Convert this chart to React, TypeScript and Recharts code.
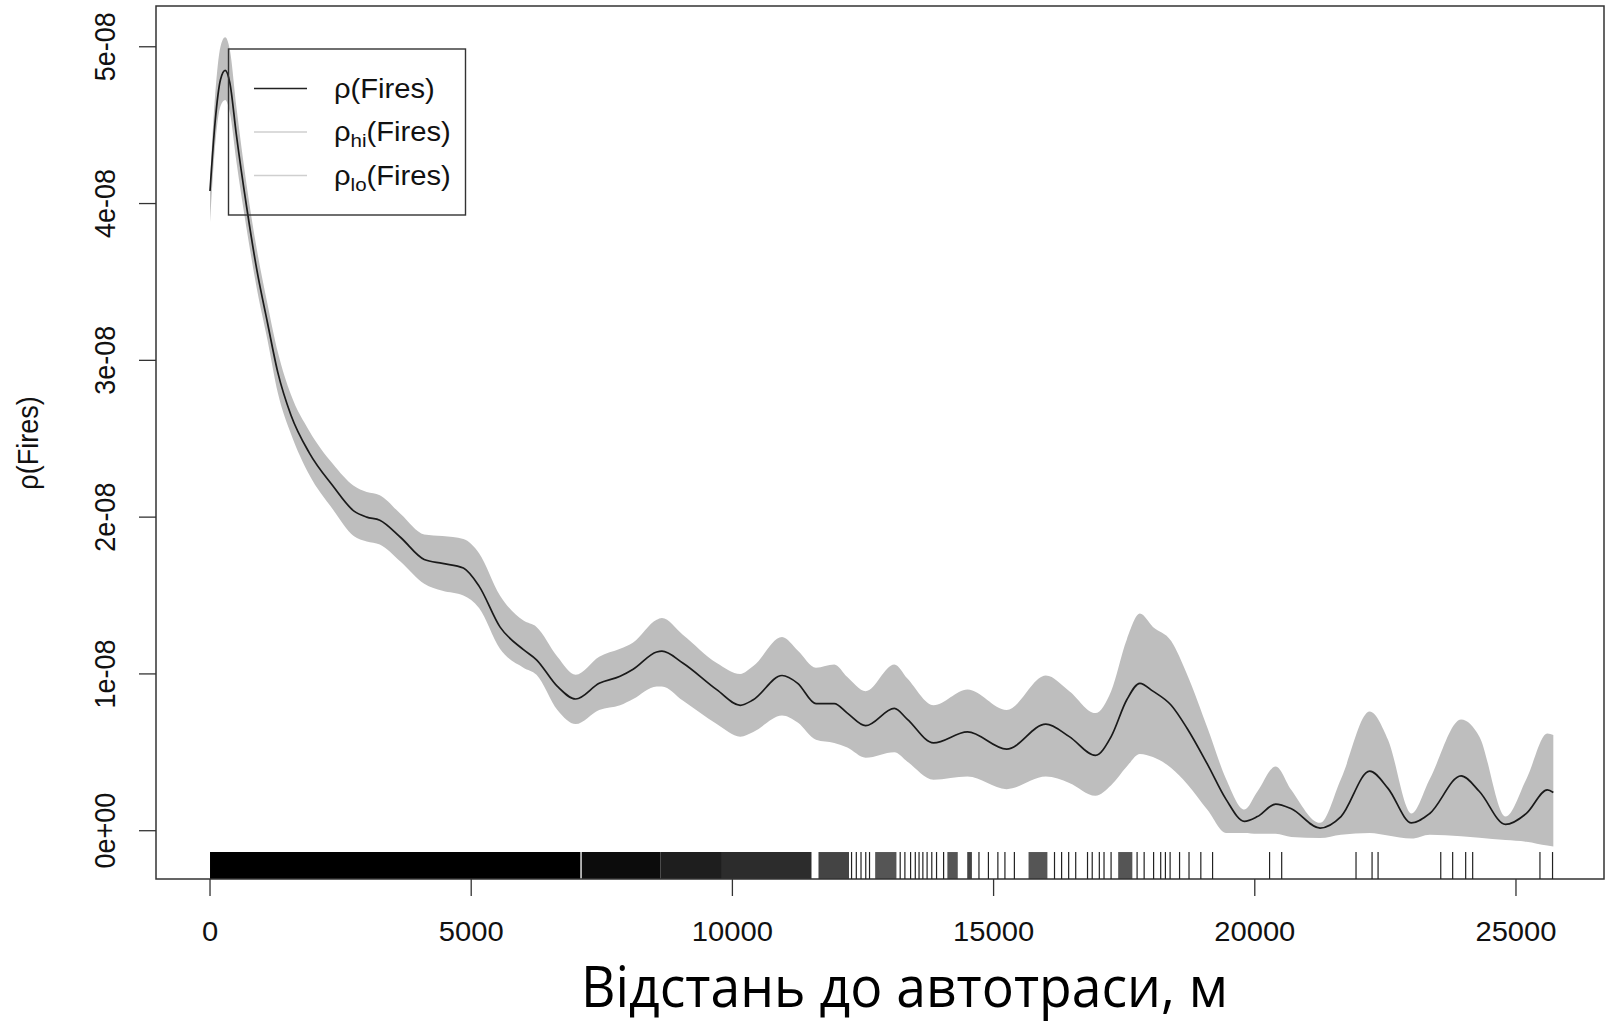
import {
  ComposedChart,
  Area,
  Line,
  XAxis,
  YAxis,
  ReferenceArea,
  ReferenceLine,
} from 'recharts'

// distance to highway, m
const distance = [
  0, 100, 200, 290, 380, 500, 700, 900, 1100, 1300, 1550, 1900, 2350, 2750, 3000,
  3250, 3650, 4100, 4450, 4850, 5150, 5550, 6000, 6250, 6650, 7000, 7450, 7850, 8100, 8550,
  8650, 9050, 9700, 10150, 10400, 10950, 11250, 11600, 11950, 12200, 12550, 13100, 13350, 13850, 14500,
  15250, 16000, 16450, 16950, 17250, 17550, 17800, 18050, 18400, 18700, 19100, 19450, 19800, 20050, 20400,
  20700, 21250, 21650, 22200, 22550, 23000, 23350, 23950, 24300, 24800, 25200, 25600, 25715,
]

// rho(Fires), in units of 1e-08
const rho = [
  4.08, 4.53, 4.79, 4.85, 4.77, 4.45, 3.98, 3.57, 3.24, 2.92, 2.65, 2.41, 2.2, 2.04, 2.0,
  1.98, 1.87, 1.73, 1.705, 1.675, 1.56, 1.3, 1.155, 1.09, 0.92, 0.84, 0.94, 0.985, 1.03, 1.14,
  1.145, 1.07, 0.9, 0.8, 0.835, 0.99, 0.94, 0.81, 0.81, 0.75, 0.67, 0.78, 0.71, 0.56, 0.63,
  0.52, 0.68, 0.6, 0.48, 0.6, 0.835, 0.94, 0.89, 0.8, 0.655, 0.42, 0.2, 0.06, 0.09, 0.17,
  0.14, 0.017, 0.09, 0.38, 0.27, 0.05, 0.11, 0.35, 0.25, 0.04, 0.11, 0.26, 0.244,
]

const rhoHi = [
  4.15, 4.7, 5.0, 5.06, 4.98, 4.63, 4.12, 3.7, 3.36, 3.05, 2.78, 2.55, 2.34, 2.2, 2.16,
  2.14, 2.02, 1.89, 1.88, 1.86, 1.77, 1.5, 1.34, 1.3, 1.11, 0.995, 1.11, 1.16, 1.2, 1.345,
  1.356, 1.25, 1.07, 1.0, 1.05, 1.235, 1.15, 1.04, 1.06, 0.98, 0.89, 1.06, 0.97, 0.8, 0.9,
  0.77, 0.99, 0.89, 0.75, 0.89, 1.22, 1.385, 1.3, 1.21, 1.0, 0.65, 0.33, 0.135, 0.25, 0.41,
  0.26, 0.05, 0.33, 0.76, 0.58, 0.11, 0.33, 0.71, 0.6, 0.09, 0.33, 0.62, 0.61,
]

const rhoLo = [
  3.88, 4.38, 4.62, 4.66, 4.58, 4.28, 3.84, 3.45, 3.13, 2.79, 2.53, 2.27, 2.05, 1.88, 1.845,
  1.825, 1.715, 1.575, 1.53, 1.5, 1.42, 1.16, 1.04, 0.995, 0.77, 0.68, 0.77, 0.8, 0.84, 0.92,
  0.92, 0.83, 0.68, 0.6, 0.63, 0.735, 0.69, 0.58, 0.56, 0.53, 0.465, 0.5, 0.44, 0.325, 0.345,
  0.265, 0.345, 0.305, 0.223, 0.29, 0.41, 0.49, 0.47, 0.4, 0.3, 0.13, -0.015, -0.015, -0.02, -0.02,
  -0.04, -0.047, -0.025, -0.015, -0.03, -0.05, -0.025, -0.035, -0.045, -0.06, -0.07, -0.095, -0.1,
]

// rug: dense stretches (start, end, shade) and single observations
const rugFrom = [0, 7115, 8620, 9800, 11648, 12733, 14115, 14495, 15669, 17385]
const rugTo = [7090, 8620, 9800, 11514, 12232, 13140, 14314, 14585, 16030, 17656]
const rugShade = ['#000', '#0c0c0c', '#1e1e1e', '#2c2c2c', '#444', '#555', '#555', '#444', '#555', '#555']
const rugTicks = [
  12281, 12372, 12462, 12553, 12625, 13212, 13302, 13411, 13501, 13573, 13646, 13727, 13817, 13908,
  14043, 14720, 14901, 15082, 15217, 15398, 16166, 16302, 16437, 16572, 16798, 16888, 17024, 17114,
  17249, 17747, 17882, 18063, 18199, 18289, 18379, 18560, 18741, 18967, 19192, 20283, 20515, 21938,
  22245, 22360, 23560, 23788, 24037, 24171, 25459, 25700,
]

const xTicks = [0, 5000, 10000, 15000, 20000, 25000]
const yTicks = [0, 1, 2, 3, 4, 5]

const X_DOMAIN: [number, number] = [-1034, 26685]
const Y_DOMAIN: [number, number] = [-0.308, 5.26]
const RUG_TOP = -0.136

const rows = distance.map((x, i) => ({ x, rho: rho[i], hi: rhoHi[i], lo: rhoLo[i] }))

const R_FONT = '"Liberation Sans", Arial, sans-serif'
const STRETCH = 1.08

const XTick = (props: any) => {
  const { x, y, payload } = props
  return (
    <text
      transform={`translate(${x}, ${y + 43}) scale(${STRETCH}, 1)`}
      textAnchor="middle"
      fontFamily={R_FONT}
      fontSize={27}
      fill="#111"
    >
      {payload.value}
    </text>
  )
}

const YTick = (props: any) => {
  const { x, y, payload } = props
  const v = payload.value
  const label = v === 0 ? '0e+00' : `${v}e-08`
  const bx = x - 22
  return (
    <text
      transform={`translate(${bx}, ${y}) scale(${STRETCH}, 1) rotate(-90)`}
      textAnchor="middle"
      fontFamily={R_FONT}
      fontSize={27}
      fill="#111"
    >
      {label}
    </text>
  )
}

export default function App() {
  return (
    <div style={{ position: 'absolute', left: 0, top: 0, width: 1606, height: 1027, background: '#fff' }}>
      <ComposedChart
        width={1606}
        height={1027}
        data={rows}
        margin={{ top: 6, right: 2, left: 0, bottom: 0 }}
      >
        <XAxis
          type="number"
          dataKey="x"
          domain={X_DOMAIN}
          allowDataOverflow
          ticks={xTicks}
          height={148}
          tickSize={17}
          axisLine={false}
          tickLine={{ stroke: '#333', strokeWidth: 1.3 }}
          tick={XTick}
          interval={0}
        />
        <YAxis
          type="number"
          domain={Y_DOMAIN}
          allowDataOverflow
          ticks={yTicks}
          width={156}
          tickSize={17}
          axisLine={false}
          tickLine={{ stroke: '#333', strokeWidth: 1.3 }}
          tick={YTick}
          interval={0}
        />
        <Area
          type="monotone"
          dataKey={(d: any) => [d.lo, d.hi]}
          stroke="none"
          fill="#bebebe"
          fillOpacity={1}
          isAnimationActive={false}
        />
        <Line
          type="monotone"
          dataKey="rho"
          stroke="#1a1a1a"
          strokeWidth={1.7}
          dot={false}
          isAnimationActive={false}
        />
        {rugFrom.map((from, i) => (
          <ReferenceArea
            key={`blk${i}`}
            x1={from}
            x2={rugTo[i]}
            y1={Y_DOMAIN[0]}
            y2={RUG_TOP}
            fill={rugShade[i]}
            fillOpacity={1}
            stroke="none"
            ifOverflow="visible"
          />
        ))}
        {rugTicks.map((t, i) => (
          <ReferenceLine
            key={`rug${i}`}
            segment={[
              { x: t, y: Y_DOMAIN[0] },
              { x: t, y: RUG_TOP },
            ]}
            stroke="#222"
            strokeWidth={1.2}
            ifOverflow="visible"
          />
        ))}
        <ReferenceArea
          x1={X_DOMAIN[0]}
          x2={X_DOMAIN[1]}
          y1={Y_DOMAIN[0]}
          y2={Y_DOMAIN[1]}
          fill="none"
          stroke="#333"
          strokeWidth={1.5}
          ifOverflow="visible"
        />
      </ComposedChart>

      <svg
        width={1606}
        height={1027}
        style={{ position: 'absolute', left: 0, top: 0, pointerEvents: 'none' }}
      >
        {/* legend */}
        <rect x={228.5} y={49} width={237} height={166} fill="none" stroke="#333" strokeWidth={1.4} />
        <line x1={254} x2={307} y1={88.5} y2={88.5} stroke="#222" strokeWidth={1.6} />
        <line x1={254} x2={307} y1={132} y2={132} stroke="#cfcfcf" strokeWidth={1.6} />
        <line x1={254} x2={307} y1={175.5} y2={175.5} stroke="#cfcfcf" strokeWidth={1.6} />
        <g fontFamily={R_FONT} fontSize={27} fill="#111">
          <text transform={`translate(334, 97.5) scale(${STRETCH}, 1)`}>ρ(Fires)</text>
          <text transform={`translate(334, 141) scale(${STRETCH}, 1)`}>
            ρ<tspan fontSize={19} dy={6}>hi</tspan>
            <tspan dy={-6}>(Fires)</tspan>
          </text>
          <text transform={`translate(334, 184.5) scale(${STRETCH}, 1)`}>
            ρ<tspan fontSize={19} dy={6}>lo</tspan>
            <tspan dy={-6}>(Fires)</tspan>
          </text>
        </g>
        {/* y title */}
        <text
          transform={`translate(37.5, 443) scale(${STRETCH}, 1) rotate(-90)`}
          textAnchor="middle"
          fontFamily={R_FONT}
          fontSize={27}
          fill="#111"
        >
          ρ(Fires)
        </text>
        {/* x title */}
        <text
          x={904.5}
          y={1007}
          textAnchor="middle"
          fontFamily='"Open Sans", sans-serif'
          fontSize={57}
          textLength={647}
          lengthAdjust="spacingAndGlyphs"
          fill="#000"
        >
          Відстань до автотраси, м
        </text>
      </svg>
    </div>
  )
}
